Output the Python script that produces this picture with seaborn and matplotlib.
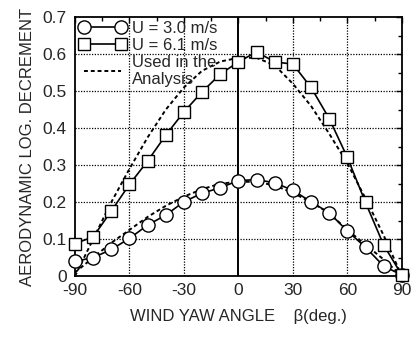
import numpy as np
import pandas as pd
import seaborn as sns
import matplotlib.pyplot as plt

# measured points, every 10 deg of yaw angle
beta = [-90, -80, -70, -60, -50, -40, -30, -20, -10, 0,
        10, 20, 30, 40, 50, 60, 70, 80, 90]
delta_u30 = [0.040, 0.050, 0.072, 0.102, 0.138, 0.165, 0.201, 0.224, 0.239, 0.258,
             0.261, 0.252, 0.232, 0.201, 0.171, 0.122, 0.078, 0.027, 0.003]
delta_u61 = [0.088, 0.106, 0.176, 0.248, 0.311, 0.381, 0.444, 0.498, 0.546, 0.579,
             0.606, 0.579, 0.573, 0.510, 0.426, 0.321, 0.199, 0.084, 0.003]

# curves used in the analysis
analysis_hi = [0.0, 0.10, 0.20, 0.29, 0.375, 0.45, 0.51, 0.555, 0.58, 0.59,
               0.59, 0.57, 0.52, 0.46, 0.385, 0.305, 0.21, 0.11, 0.0]
analysis_lo = [0.01, 0.05, 0.09, 0.125, 0.16, 0.19, 0.215, 0.235, 0.25, 0.255,
               0.255, 0.245, 0.225, 0.20, 0.17, 0.125, 0.085, 0.045, 0.0]

x_ticks = [-90, -60, -30, 0, 30, 60, 90]
x_tick_labels = ['-90', '-60', '-30', '0', '30', '60', '90']
y_ticks = [0, 0.1, 0.2, 0.3, 0.4, 0.5, 0.6, 0.7]
y_tick_labels = ['0', '0.1', '0.2', '0.3', '0.4', '0.5', '0.6', '0.7']


def main():
    sns.set_style("white")
    plt.rcParams['font.family'] = ['Liberation Sans', 'DejaVu Sans']

    df = pd.DataFrame({'beta': beta, 'u30': delta_u30, 'u61': delta_u61,
                       'hi': analysis_hi, 'lo': analysis_lo})

    fig = plt.figure(figsize=(4.19, 3.43), dpi=100)
    ax = fig.add_axes([0.179, 0.195, 0.780, 0.755])

    # grid: dotted, with a solid line at zero yaw
    for xv in [-60, -30, 30, 60]:
        ax.axvline(xv, color='black', linestyle=(0, (1, 1.2)), linewidth=0.9, zorder=0)
    for yv in [0.1, 0.2, 0.3, 0.4, 0.5, 0.6]:
        ax.axhline(yv, color='black', linestyle=(0, (1, 1.2)), linewidth=0.9, zorder=0)
    ax.axvline(0, color='black', linewidth=1.4, zorder=0)

    sns.lineplot(data=df, x='beta', y='u30', ax=ax, color='black', linewidth=1.2,
                 marker='o', markersize=9.5, markerfacecolor='white',
                 markeredgecolor='black', markeredgewidth=1.0,
                 label='U = 3.0 m/s', zorder=3, clip_on=False)
    sns.lineplot(data=df, x='beta', y='u61', ax=ax, color='black', linewidth=1.2,
                 marker='s', markersize=9, markerfacecolor='white',
                 markeredgecolor='black', markeredgewidth=1.0,
                 label='U = 6.1 m/s', zorder=3, clip_on=False)
    sns.lineplot(data=df, x='beta', y='hi', ax=ax, color='black', linewidth=1.4,
                 linestyle=(0, (2, 1.5)), label='Used in the\nAnalysis', zorder=2)
    sns.lineplot(data=df, x='beta', y='lo', ax=ax, color='black', linewidth=1.4,
                 linestyle=(0, (2, 1.5)), zorder=2)

    ax.set_xlim(-90, 90)
    ax.set_ylim(0, 0.7)
    ax.set_xticks(x_ticks)
    ax.set_xticklabels(x_tick_labels)
    ax.set_yticks(y_ticks)
    ax.set_yticklabels(y_tick_labels)
    ax.set_xticks(np.arange(-75, 90, 30), minor=True)
    ax.set_yticks(np.arange(0.05, 0.7, 0.1), minor=True)
    ax.tick_params(which='both', direction='in', top=True, right=True,
                   labelsize=12.5, color='black')
    ax.tick_params(axis='x', pad=5)
    ax.tick_params(axis='y', pad=6)
    ax.tick_params(which='major', length=4, width=1)
    ax.tick_params(which='minor', length=3, width=1)
    for s in ax.spines.values():
        s.set_color('black')
        s.set_linewidth(1.3)

    ax.set_xlabel('WIND YAW ANGLE    \u03b2(deg.)', fontsize=12, labelpad=8)
    ax.set_ylabel('AERODYNAMIC LOG. DECREMENT', fontsize=12, labelpad=5)

    ax.legend(loc='upper left', frameon=False, numpoints=2, fontsize=12,
              handlelength=2.8, handletextpad=0.35, labelspacing=0.1,
              borderaxespad=0.05, borderpad=0.2)

    fig.savefig('out.png', dpi=100)


if __name__ == "__main__":
    main()
